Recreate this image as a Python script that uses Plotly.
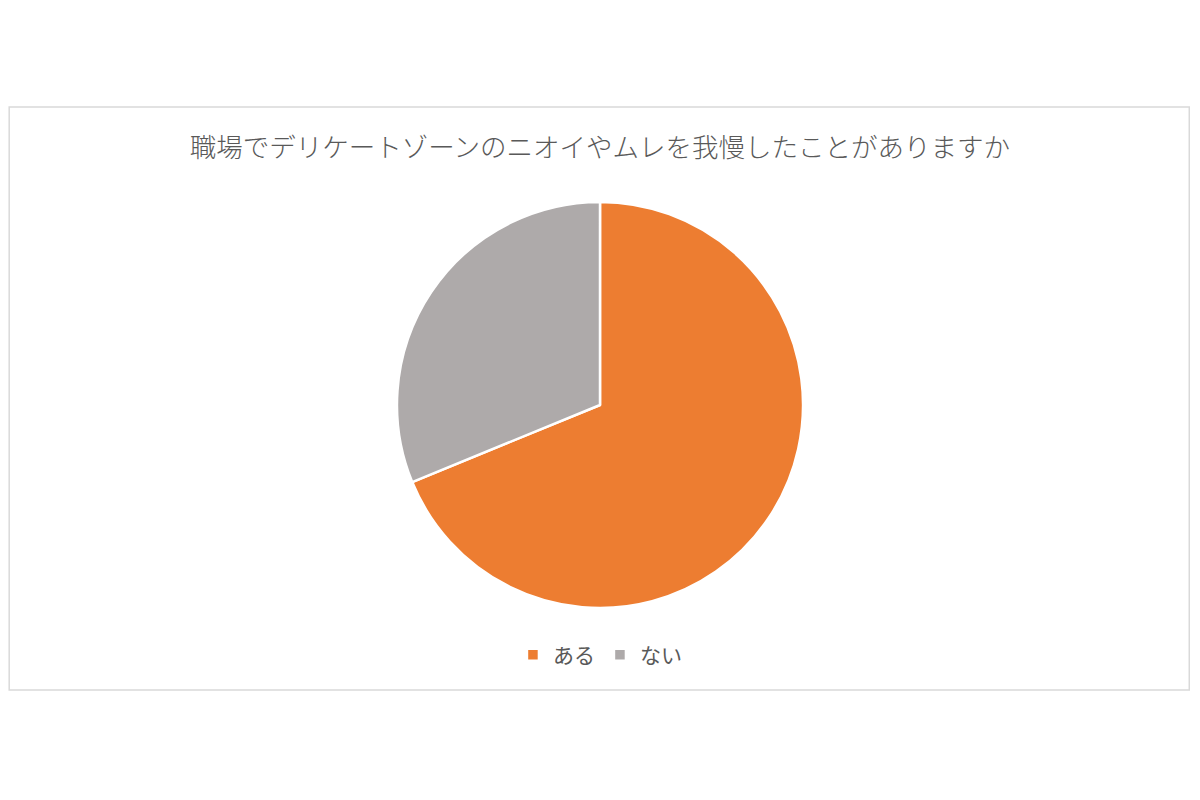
import plotly.graph_objects as go

labels = ['ある', 'ない']
values = [68.8, 31.2]
colors = ['#ED7D31', '#AEAAAA']

# page body has an 8px margin, so the figure is sized to fill the rest of the window
W, H = 1192, 792

fig = go.Figure(go.Pie(
    labels=labels,
    values=values,
    sort=False,
    direction='clockwise',
    rotation=0,
    textinfo='none',
    hoverinfo='label+percent',
    marker=dict(colors=colors, line=dict(color='white', width=2.5)),
    domain=dict(x=[0, 0.9933], y=[0.2424, 0.7551]),
))

fig.update_layout(
    width=W,
    height=H,
    margin=dict(l=0, r=0, t=0, b=0),
    paper_bgcolor='white',
    plot_bgcolor='white',
    font=dict(family='Noto Sans CJK JP, sans-serif', color='#595959'),
    title=dict(
        text='職場でデリケートゾーンのニオイやムレを我慢したことがありますか',
        font=dict(family='Noto Sans CJK JP, sans-serif', size=26.5, color='#595959', weight=300),
        x=0.4966, xanchor='center',
        y=0.8232, yanchor='middle',
    ),
    legend=dict(
        orientation='h',
        x=0.4966, xanchor='center',
        y=0.183, yanchor='middle',
        font=dict(size=21, color='#595959'),
        itemwidth=30,
    ),
    shapes=[dict(
        type='rect', xref='paper', yref='paper',
        x0=0.001, x1=0.991, y0=0.1389, y1=0.875,
        line=dict(color='#D9D9D9', width=1.5),
        fillcolor='rgba(0,0,0,0)',
        layer='below',
    )],
)

fig.write_html('out.html')
